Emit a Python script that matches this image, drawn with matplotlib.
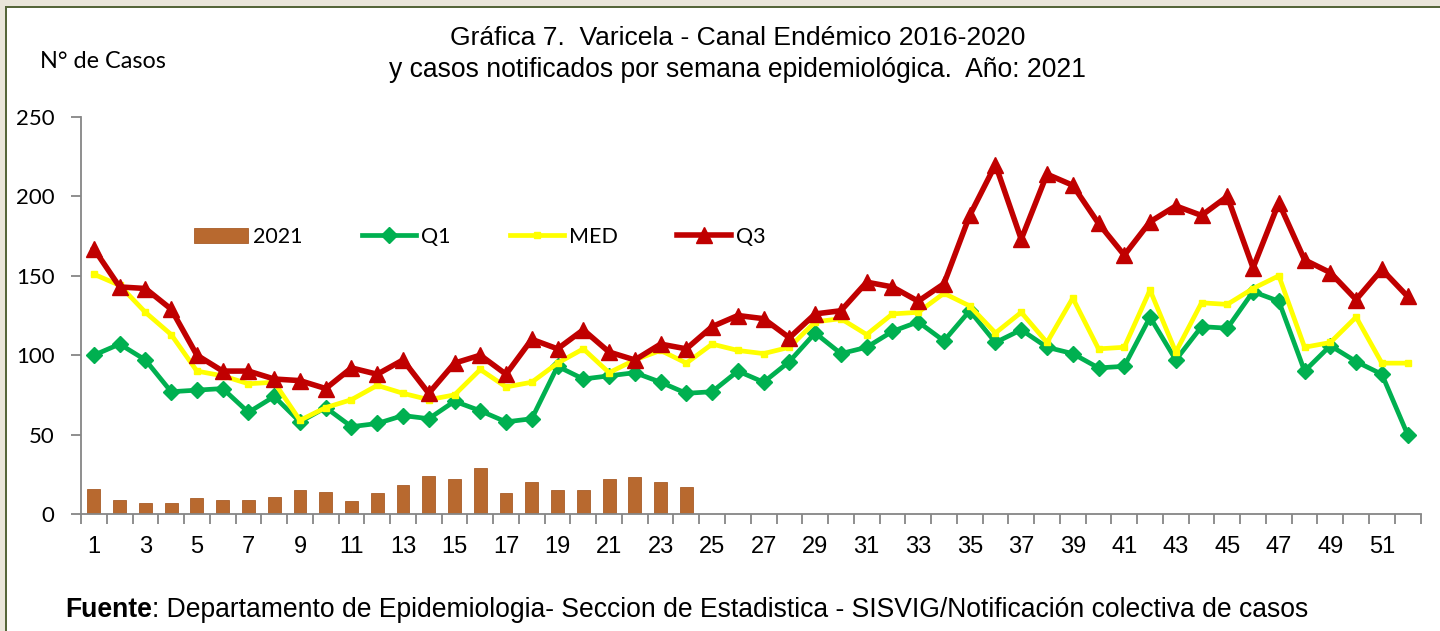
import numpy as np
import matplotlib
matplotlib.use("Agg")
import matplotlib.pyplot as plt
from matplotlib.patches import Rectangle

# semanas epidemiologicas
weeks = list(range(1, 53))

# casos notificados 2021 (hasta semana 24)
casos_2021 = [16, 9, 7, 7, 10, 9, 9, 11, 15, 14, 8, 13, 18, 24, 22, 29,
              13, 20, 15, 15, 22, 23, 20, 17]

q1 = [100, 107, 97, 77, 78, 79, 64, 74, 58, 67, 55, 57, 62, 60, 71, 65,
      58, 60, 93, 85, 87, 89, 83, 76, 77, 90, 83, 96, 114, 101, 105, 115,
      121, 109, 128, 108, 116, 105, 101, 92, 93, 124, 97, 118, 117, 140,
      134, 90, 106, 96, 88, 50]

med = [151, 144, 127, 113, 90, 87, 82, 83, 59, 67, 72, 81, 76, 72, 75, 91,
       80, 83, 95, 104, 89, 97, 103, 95, 107, 103, 101, 105, 121, 123, 113, 126,
       127, 139, 131, 114, 127, 108, 136, 104, 105, 141, 102, 133, 132, 142,
       150, 105, 108, 124, 95, 95]

q3 = [167, 143, 142, 129, 100, 90, 90, 85, 84, 79, 92, 88, 97, 76, 95, 100,
      88, 110, 104, 116, 102, 97, 107, 104, 118, 125, 123, 111, 126, 128, 146, 143,
      134, 145, 188, 220, 173, 214, 207, 183, 163, 184, 194, 188, 200, 155,
      196, 160, 152, 135, 154, 137]

yticks = [0, 50, 100, 150, 200, 250]
xlabels = [str(w) for w in weeks if w % 2 == 1]

titulo1 = "Gráfica 7.  Varicela - Canal Endémico 2016-2020"
titulo2 = "y casos notificados por semana epidemiológica.  Año: 2021"
fuente = ": Departamento de Epidemiologia- Seccion de Estadistica - SISVIG/Notificación colectiva de casos"

W, H = 1440, 631
fig = plt.figure(figsize=(W / 100, H / 100), dpi=100)
fig.patch.set_facecolor("white")
renderer = fig.canvas.get_renderer()


def fit_text(x, y, s, width_px, ha="center", weight="normal", size=16):
    # ajusta el tamaño de letra al ancho medido en la imagen
    t = fig.text(x / W, 1 - y / H, s, family="Liberation Sans", fontsize=size,
                 ha=ha, va="center", weight=weight)
    w = t.get_window_extent(renderer).width
    t.set_fontsize(size * width_px / w)
    return t


# marco beige / verde oliva
fig.add_artist(Rectangle((0, 1 - 6 / H), 1, 6 / H, transform=fig.transFigure,
                         facecolor="#EAE6DA", edgecolor="none", zorder=0))
fig.add_artist(Rectangle((0, 0), 5 / W, 1, transform=fig.transFigure,
                         facecolor="#EAE6DA", edgecolor="none", zorder=0))
fig.add_artist(Rectangle((5 / W, 1 - 8 / H), 1, 2 / H, transform=fig.transFigure,
                         facecolor="#56663A", edgecolor="none", zorder=1))
fig.add_artist(Rectangle((5 / W, 0), 2 / W, 1 - 6 / H, transform=fig.transFigure,
                         facecolor="#56663A", edgecolor="none", zorder=1))

ax = fig.add_axes([81 / W, 1 - 514 / H, (1420.5 - 81) / W, (514 - 117) / H])
ax.set_facecolor("none")

bars = ax.bar(weeks[:len(casos_2021)], casos_2021, width=0.5, color="#B8692F",
              edgecolor="#A85C27", linewidth=0.6, label="2021", zorder=2)
l_q1, = ax.plot(weeks, q1, color="#00B050", lw=3.4, marker="D", ms=8,
                label="Q1", zorder=3)
l_med, = ax.plot(weeks, med, color="#FFFF00", lw=3.4, marker="s", ms=4,
                 label="MED", zorder=4)
l_q3, = ax.plot(weeks, q3, color="#C00000", lw=4.0, marker="^", ms=11,
                label="Q3", zorder=5)

ax.set_xlim(0.5, 52.5)
ax.set_ylim(0, 250)

for s in ["top", "right"]:
    ax.spines[s].set_visible(False)
for s in ["left", "bottom"]:
    ax.spines[s].set_color("#868686")
    ax.spines[s].set_linewidth(1.3)

ax.set_yticks(yticks)
ax.set_yticklabels([str(v) for v in yticks], fontfamily="Lato", fontsize=16)
ax.tick_params(axis="y", length=7, width=1.3, color="#868686", pad=12)

# ticks en los limites de categoria, etiquetas en semanas impares
ax.set_xticks(np.arange(0.5, 53, 1.0))
ax.set_xticklabels([])
ax.tick_params(axis="x", which="major", length=7, width=1.3, color="#868686")
ax.set_xticks([w for w in weeks if w % 2 == 1], minor=True)
ax.set_xticklabels(xlabels, minor=True, fontfamily="Liberation Sans", fontsize=17)
ax.tick_params(axis="x", which="minor", length=0, pad=16)

fit_text(738, 38, titulo1, 577)
fit_text(737, 70, titulo2, 699)
fig.text(40 / W, 1 - 62 / H, "N° de Casos", fontfamily="Lato", fontsize=16.8,
         ha="left", va="center")

# pie: "Fuente" en negrita y el resto normal
tb = fig.text(65 / W, 1 - 610 / H, "Fuente", fontfamily="Liberation Sans",
              fontsize=17, weight="bold", ha="left", va="center")
wb = tb.get_window_extent(renderer).width
tr = fig.text((65 + wb) / W, 1 - 610 / H, fuente, fontfamily="Liberation Sans",
              fontsize=17, ha="left", va="center")
wr = tr.get_window_extent(renderer).width
k = 1247 / (wb + wr)
tb.set_fontsize(17 * k)
tr.set_fontsize(17 * k)
tr.set_x((65 + wb * k) / W)

fig.legend([bars, l_q1, l_med, l_q3], ["2021", "Q1", "MED", "Q3"],
           loc="center left", bbox_to_anchor=(194 / W, 1 - 237 / H),
           ncol=4, frameon=False, prop={"family": "Lato", "size": 15.5},
           handlelength=2.5, handletextpad=0.25, columnspacing=2.75,
           numpoints=1, borderpad=0, borderaxespad=0)

fig.savefig("out.png", dpi=100, facecolor=fig.get_facecolor())
